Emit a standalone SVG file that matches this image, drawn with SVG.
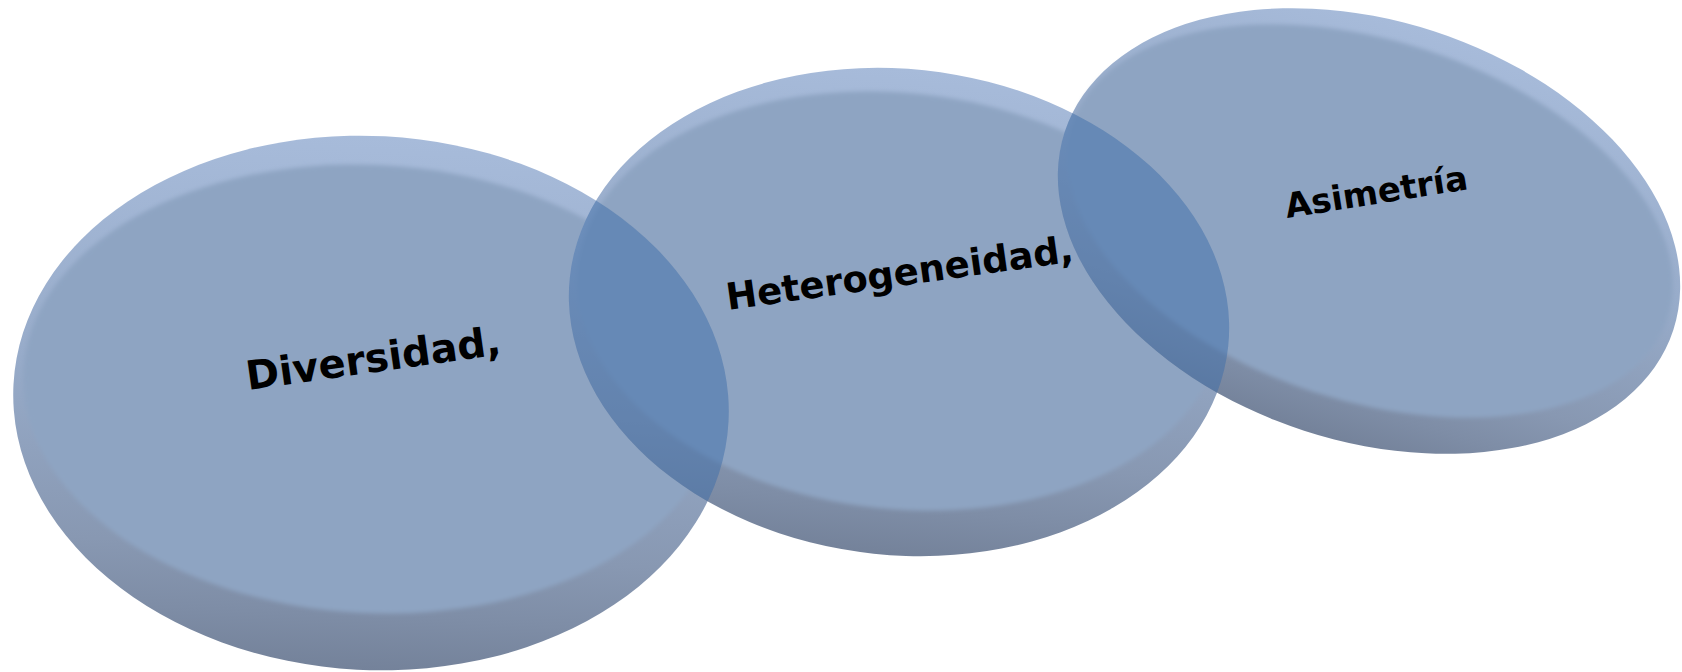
<svg xmlns="http://www.w3.org/2000/svg" xmlns:xlink="http://www.w3.org/1999/xlink" width="1682" height="672" viewBox="0 0 1682 672">
  <defs>
    <linearGradient id="rim" x1="0" y1="0" x2="0" y2="1">
      <stop offset="0" stop-color="#a7bbda"/>
      <stop offset="0.45" stop-color="#97abc9"/>
      <stop offset="0.78" stop-color="#8898b2"/>
      <stop offset="0.9" stop-color="#7e8da6"/>
      <stop offset="1" stop-color="#74829a"/>
    </linearGradient>
    <filter id="soft" x="-5%" y="-5%" width="110%" height="110%">
      <feGaussianBlur stdDeviation="2"/>
    </filter>
    <ellipse id="s1" cx="371" cy="403" rx="358" ry="267" transform="rotate(3 371 403)"/>
    <ellipse id="s2" cx="899" cy="312" rx="331" ry="243" transform="rotate(6 899 312)"/>
    <ellipse id="s3" cx="1369" cy="231" rx="320" ry="210" transform="rotate(18 1369 231)"/>
    <clipPath id="c1"><use xlink:href="#s1"/></clipPath>
    <clipPath id="c3"><use xlink:href="#s3"/></clipPath>
  </defs>
  <style>
    .rim { fill: url(#rim); }
    .face { fill: #8ea4c2; filter: url(#soft); }
    .ov { fill: #3e6eaa; fill-opacity: 0.5; }
    .lbl { font-family: "DejaVu Sans", Verdana, sans-serif; font-weight: bold; fill: #000; }
  </style>

  <g id="node-diversidad">
    <use xlink:href="#s1" class="rim"/>
    <ellipse class="face" cx="371" cy="389" rx="348" ry="224" transform="rotate(3 371 389)"/>
  </g>

  <g id="node-heterogeneidad">
    <use xlink:href="#s2" class="rim"/>
    <ellipse class="face" cx="899" cy="301" rx="323" ry="208" transform="rotate(6 899 301)"/>
  </g>

  <g id="node-asimetria">
    <use xlink:href="#s3" class="rim"/>
    <ellipse class="face" cx="1370" cy="221" rx="313" ry="180" transform="rotate(18 1370 221)"/>
  </g>

  <g id="connectors">
    <use xlink:href="#s2" class="ov" clip-path="url(#c1)"/>
    <use xlink:href="#s2" class="ov" clip-path="url(#c3)"/>
  </g>

  <g id="labels">
    <text class="lbl" x="248" y="390" font-size="40" transform="rotate(-8 248 390)">Diversidad,</text>
    <text class="lbl" x="728" y="310" font-size="37" transform="rotate(-8 728 310)">Heterogeneidad,</text>
    <text class="lbl" x="1287" y="218" font-size="34" transform="rotate(-9 1287 218)">Asimetría</text>
  </g>
</svg>
